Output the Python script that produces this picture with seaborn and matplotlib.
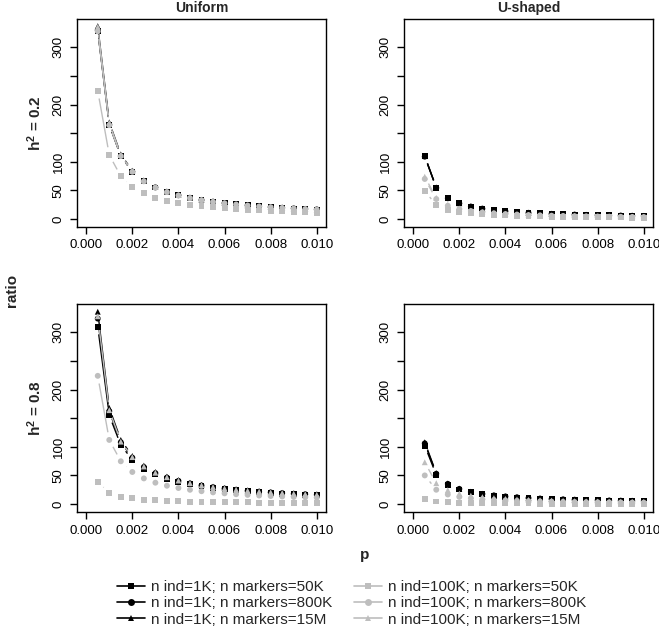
import numpy as np
import pandas as pd
import matplotlib
matplotlib.use("Agg")
import matplotlib.pyplot as plt
from matplotlib.lines import Line2D
import seaborn as sns

# p values (x axis)
p = [0.0005, 0.0010, 0.0015, 0.0020, 0.0025, 0.0030, 0.0035, 0.0040, 0.0045, 0.0050,
     0.0055, 0.0060, 0.0065, 0.0070, 0.0075, 0.0080, 0.0085, 0.0090, 0.0095, 0.0100]

# Uniform, h2 = 0.2
u02_k1_50k = [329, 165, 110, 82.8, 66.2, 55.2, 47.3, 41.5, 36.9, 33.2, 30.2, 27.7, 25.6, 23.8, 22.2, 20.8, 19.6, 18.5, 17.6, 16.7]
u02_k1_800k = [330, 165, 110, 82.9, 66.3, 55.3, 47.4, 41.6, 37.0, 33.3, 30.3, 27.8, 25.7, 23.9, 22.3, 20.9, 19.7, 18.6, 17.7, 16.8]
u02_k1_15m = [337, 169, 113, 84.5, 67.6, 56.4, 48.4, 42.4, 37.7, 33.9, 30.8, 28.3, 26.1, 24.2, 22.6, 21.2, 20.0, 18.9, 17.9, 17.0]
u02_k100_50k = [224, 112, 74.7, 56.0, 44.8, 37.3, 32.0, 28.0, 24.9, 22.4, 20.4, 18.7, 17.2, 16.0, 14.9, 14.0, 13.2, 12.4, 11.8, 11.2]
u02_k100_800k = [328, 164, 110, 82.5, 66.0, 55.0, 47.1, 41.3, 36.7, 33.0, 30.0, 27.5, 25.4, 23.6, 22.0, 20.6, 19.4, 18.3, 17.4, 16.5]
u02_k100_15m = [336, 168, 112, 84.0, 67.2, 56.0, 48.0, 42.0, 37.3, 33.6, 30.5, 28.0, 25.8, 24.0, 22.4, 21.0, 19.8, 18.7, 17.7, 16.8]

# Uniform, h2 = 0.8
u08_k1_50k = [310, 155, 103, 77.5, 62.0, 51.7, 44.3, 38.8, 34.4, 31.0, 28.2, 25.8, 23.8, 22.1, 20.7, 19.4, 18.2, 17.2, 16.3, 15.5]
u08_k1_800k = [324, 162, 108, 81.0, 64.8, 54.0, 46.3, 40.5, 36.0, 32.4, 29.5, 27.0, 24.9, 23.1, 21.6, 20.3, 19.1, 18.0, 17.1, 16.2]
u08_k1_15m = [336, 168, 112, 84.0, 67.2, 56.0, 48.0, 42.0, 37.3, 33.6, 30.5, 28.0, 25.8, 24.0, 22.4, 21.0, 19.8, 18.7, 17.7, 16.8]
u08_k100_50k = [39, 19.5, 13.0, 9.8, 7.8, 6.5, 5.6, 4.9, 4.3, 3.9, 3.5, 3.3, 3.0, 2.8, 2.6, 2.4, 2.3, 2.2, 2.1, 2.0]
u08_k100_800k = [224, 112, 74.7, 56.0, 44.8, 37.3, 32.0, 28.0, 24.9, 22.4, 20.4, 18.7, 17.2, 16.0, 14.9, 14.0, 13.2, 12.4, 11.8, 11.2]
u08_k100_15m = [328, 164, 109, 82.0, 65.6, 54.7, 46.9, 41.0, 36.4, 32.8, 29.8, 27.3, 25.2, 23.4, 21.9, 20.5, 19.3, 18.2, 17.3, 16.4]

# U-shaped, h2 = 0.2
s02_k1_50k = [110, 55.0, 36.7, 27.5, 22.0, 18.3, 15.7, 13.8, 12.2, 11.0, 10.0, 9.2, 8.5, 7.9, 7.3, 6.9, 6.5, 6.1, 5.8, 5.5]
s02_k1_800k = [109, 54.5, 36.3, 27.3, 21.8, 18.2, 15.6, 13.6, 12.1, 10.9, 9.9, 9.1, 8.4, 7.8, 7.3, 6.8, 6.4, 6.1, 5.7, 5.5]
s02_k1_15m = [110, 55.2, 36.8, 27.6, 22.1, 18.4, 15.8, 13.8, 12.3, 11.0, 10.0, 9.2, 8.5, 7.9, 7.4, 6.9, 6.5, 6.1, 5.8, 5.5]
s02_k100_50k = [49, 24.5, 16.3, 12.3, 9.8, 8.2, 7.0, 6.1, 5.4, 4.9, 4.5, 4.1, 3.8, 3.5, 3.3, 3.1, 2.9, 2.7, 2.6, 2.5]
s02_k100_800k = [70, 35.0, 23.3, 17.5, 14.0, 11.7, 10.0, 8.8, 7.8, 7.0, 6.4, 5.8, 5.4, 5.0, 4.7, 4.4, 4.1, 3.9, 3.7, 3.5]
s02_k100_15m = [74, 37.0, 24.7, 18.5, 14.8, 12.3, 10.6, 9.3, 8.2, 7.4, 6.7, 6.2, 5.7, 5.3, 4.9, 4.6, 4.4, 4.1, 3.9, 3.7]

# U-shaped, h2 = 0.8
s08_k1_50k = [102, 51.0, 34.0, 25.5, 20.4, 17.0, 14.6, 12.8, 11.3, 10.2, 9.3, 8.5, 7.8, 7.3, 6.8, 6.4, 6.0, 5.7, 5.4, 5.1]
s08_k1_800k = [106, 53.0, 35.3, 26.5, 21.2, 17.7, 15.1, 13.3, 11.8, 10.6, 9.6, 8.8, 8.2, 7.6, 7.1, 6.6, 6.2, 5.9, 5.6, 5.3]
s08_k1_15m = [108, 54.0, 36.0, 27.0, 21.6, 18.0, 15.4, 13.5, 12.0, 10.8, 9.8, 9.0, 8.3, 7.7, 7.2, 6.8, 6.4, 6.0, 5.7, 5.4]
s08_k100_50k = [9, 4.5, 3.0, 2.3, 1.8, 1.5, 1.3, 1.1, 1.0, 0.9, 0.8, 0.75, 0.7, 0.64, 0.6, 0.56, 0.53, 0.5, 0.47, 0.45]
s08_k100_800k = [50, 25.0, 16.7, 12.5, 10.0, 8.3, 7.1, 6.3, 5.6, 5.0, 4.5, 4.2, 3.8, 3.6, 3.3, 3.1, 2.9, 2.8, 2.6, 2.5]
s08_k100_15m = [73, 36.5, 24.3, 18.3, 14.6, 12.2, 10.4, 9.1, 8.1, 7.3, 6.6, 6.1, 5.6, 5.2, 4.9, 4.6, 4.3, 4.1, 3.8, 3.7]

series_labels = ["n ind=1K; n markers=50K", "n ind=1K; n markers=800K", "n ind=1K; n markers=15M",
                 "n ind=100K; n markers=50K", "n ind=100K; n markers=800K", "n ind=100K; n markers=15M"]
col_titles = ["Uniform", "U-shaped"]
row_titles = ["0.2", "0.8"]
x_ticks = [0.000, 0.002, 0.004, 0.006, 0.008, 0.010]
y_ticks = [0, 50, 100, 150, 200, 250, 300]
y_ticklabels = ["0", "50", "100", "", "200", "", "300"]

panels = {
    (0, 0): [u02_k1_50k, u02_k1_800k, u02_k1_15m, u02_k100_50k, u02_k100_800k, u02_k100_15m],
    (0, 1): [s02_k1_50k, s02_k1_800k, s02_k1_15m, s02_k100_50k, s02_k100_800k, s02_k100_15m],
    (1, 0): [u08_k1_50k, u08_k1_800k, u08_k1_15m, u08_k100_50k, u08_k100_800k, u08_k100_15m],
    (1, 1): [s08_k1_50k, s08_k1_800k, s08_k1_15m, s08_k100_50k, s08_k100_800k, s08_k100_15m],
}

GREY = "#bebebe"
palette = dict(zip(series_labels, ["black"] * 3 + [GREY] * 3))
marker_map = dict(zip(series_labels, ["s", "o", "^"] * 2))

sns.set_theme(style="white")
plt.rcParams["font.family"] = ["Liberation Sans", "DejaVu Sans"]
plt.rcParams["mathtext.fontset"] = "custom"
plt.rcParams["mathtext.rm"] = "Liberation Sans"
plt.rcParams["mathtext.bf"] = "Liberation Sans:bold"

W, H = 659, 631
fig = plt.figure(figsize=(W / 100, H / 100), dpi=100)
fig.patch.set_facecolor("white")


def gapped_lines(ax, x, y, color, gap=7.8):
    # R type="b": segments stop short of the points, short ones vanish
    pts = ax.transData.transform(np.column_stack([x, y]))
    inv = ax.transData.inverted()
    for a, b in zip(pts[:-1], pts[1:]):
        d = b - a
        L = np.hypot(d[0], d[1])
        if L <= 2 * gap:
            continue
        u = d / L
        seg = inv.transform(np.array([a + gap * u, b - gap * u]))
        ax.plot(seg[:, 0], seg[:, 1], color=color, lw=1.0, solid_capstyle="butt", zorder=2)


lefts = [77, 404]
tops = [19, 304]
pw, ph = 249, 208

for (r, c), vals in panels.items():
    ax = fig.add_axes([lefts[c] / W, 1 - (tops[r] + ph) / H, pw / W, ph / H])
    ax.set_xlim(-0.0004, 0.0104)
    ax.set_ylim(-13.9, 349.5)
    rows = []
    for lab, v in zip(series_labels, vals):
        rows.append(pd.DataFrame({"p": p, "ratio": v, "series": lab}))
    df = pd.concat(rows, ignore_index=True)
    for lab, v in zip(series_labels, vals):
        gapped_lines(ax, p, v, palette[lab])
    sns.scatterplot(data=df, x="p", y="ratio", hue="series", style="series",
                    palette=palette, markers=marker_map, s=18, linewidth=0,
                    legend=False, ax=ax, zorder=3)
    ax.set_xlabel("")
    ax.set_ylabel("")
    ax.set_xticks(x_ticks)
    ax.set_xticklabels([f"{t:.3f}" for t in x_ticks])
    ax.set_yticks(y_ticks)
    ax.set_yticklabels(y_ticklabels, rotation=90, va="center")
    ax.tick_params(axis="both", direction="out", length=5, width=1, color="black",
                   labelsize=9.5, labelcolor="black", pad=4, left=True, bottom=True)
    for sp in ax.spines.values():
        sp.set_visible(True)
        sp.set_color("black")
        sp.set_linewidth(1.0)

for c, t in enumerate(col_titles):
    fig.text((lefts[c] + pw / 2) / W, 1 - 8 / H, t, ha="center", va="center",
             fontsize=10, fontweight="bold")
for r, t in enumerate(row_titles):
    fig.text(35 / W, 1 - (tops[r] + ph / 2) / H, r"$\mathbf{h^2}$" + " = " + t,
             rotation=90, ha="center", va="center", fontsize=11, fontweight="bold")

fig.text(12 / W, 1 - 290 / H, "ratio", rotation=90, ha="center", va="center",
         fontsize=11, fontweight="bold")
fig.text(365 / W, 1 - 555 / H, "p", ha="center", va="center", fontsize=11, fontweight="bold")

handles = [Line2D([0], [0], color=palette[lab], marker=marker_map[lab], markersize=5,
                  markeredgewidth=0, lw=1.2) for lab in series_labels]
fig.legend(handles, series_labels, loc="upper left", bbox_to_anchor=(117 / W, 1 - 580 / H),
           ncol=2, frameon=False, fontsize=11, handlelength=1.85, handletextpad=0.35,
           columnspacing=1.45, labelspacing=0.15, borderpad=0, borderaxespad=0)

fig.savefig("out.png", dpi=100, facecolor="white")
